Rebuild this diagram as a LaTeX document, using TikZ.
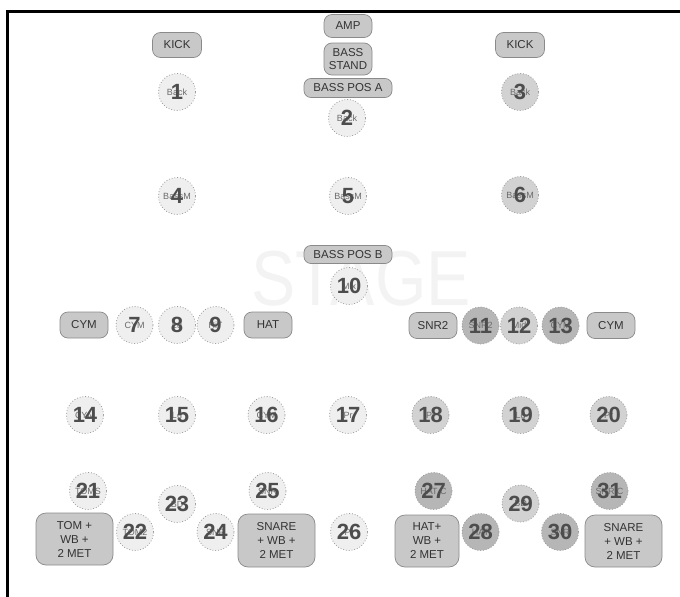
\documentclass[tikz,border=0pt]{standalone}
\usepackage{fontspec}
\setmainfont{Liberation Sans}
\definecolor{pillfill}{HTML}{C8C8C8}
\definecolor{pillborder}{HTML}{8A8A8A}
\definecolor{dotgray}{HTML}{9A9A9A}
\definecolor{lightc}{HTML}{EFEFEF}
\definecolor{medc}{HTML}{D2D2D2}
\definecolor{darkc}{HTML}{B6B6B6}
\definecolor{numc}{HTML}{4D4D4D}
\definecolor{labc}{HTML}{6A6A6A}
\definecolor{textc}{HTML}{333333}
\definecolor{stagec}{HTML}{F3F3F3}
\tikzset{
  pill/.style={draw=pillborder, fill=pillfill, line width=0.7pt, inner sep=0pt,
    text=textc, font=\fontsize{11.5}{12.5}\selectfont, align=center},
  mic/.style={circle, draw=dotgray, dotted, line width=0.8pt, minimum size=37pt, inner sep=0pt},
  miclab/.style={inner sep=0pt, text=labc, font=\fontsize{9}{9}\selectfont},
  micnum/.style={inner sep=0pt, text=numc, font=\fontsize{22}{22}\selectfont\bfseries},
}
\newcommand\mymic[6]{%
  \node[mic, fill=#4] (#1) at (#2,#3) {};
  \node[miclab] (#1l) at (#1) {#5};
  \node[micnum] (#1n) at (#1) {#6};
}
\begin{document}
\begin{tikzpicture}[x=1pt,y=-1pt]
\useasboundingbox (0,0) rectangle (680,597);
% frame
\draw[line width=2.5pt] (7.5,597) -- (7.5,11.5) -- (680,11.5);
% watermark
\node[text=stagec, font=\fontsize{78}{78}\selectfont, xscale=0.85, inner sep=0pt] (stage) at (361,279) {STAGE};
% pills
\node[pill, rounded corners=8pt, minimum width=48pt, minimum height=23pt] (amp) at (348,26) {AMP};
\node[pill, rounded corners=8pt, minimum width=48pt, minimum height=32pt] (bstand) at (348,59) {BASS\\STAND};
\node[pill, rounded corners=7pt, minimum width=88pt, minimum height=19pt] (bposa) at (348,88) {BASS POS A};
\node[pill, rounded corners=7pt, minimum width=88pt, minimum height=18pt] (bposb) at (348,254.5) {BASS POS B};
\node[pill, rounded corners=8pt, minimum width=49pt, minimum height=25pt] (kickl) at (177,45) {KICK};
\node[pill, rounded corners=8pt, minimum width=49pt, minimum height=25pt] (kickr) at (520,45) {KICK};
\node[pill, rounded corners=8pt, minimum width=48pt, minimum height=26pt] (cyml) at (84,325) {CYM};
\node[pill, rounded corners=8pt, minimum width=48pt, minimum height=26pt] (hat) at (268,325) {HAT};
\node[pill, rounded corners=8pt, minimum width=48pt, minimum height=26pt] (snr2) at (433,325.5) {SNR2};
\node[pill, rounded corners=8pt, minimum width=48pt, minimum height=26pt] (cymr) at (611,325.5) {CYM};
\node[pill, rounded corners=10pt, minimum width=77pt, minimum height=52pt, font=\fontsize{11.5}{14}\selectfont] (boxa) at (74.5,539) {TOM +\\WB +\\2 MET};
\node[pill, rounded corners=10pt, minimum width=77pt, minimum height=53pt, font=\fontsize{11.5}{14}\selectfont] (boxb) at (276.5,540.5) {SNARE\\+ WB +\\2 MET};
\node[pill, rounded corners=10pt, minimum width=64pt, minimum height=52pt, font=\fontsize{11.5}{14}\selectfont] (boxc) at (427,541) {HAT+\\WB +\\2 MET};
\node[pill, rounded corners=10pt, minimum width=77pt, minimum height=52pt, font=\fontsize{11.5}{14}\selectfont] (boxd) at (623.5,541) {SNARE\\+ WB +\\2 MET};
% mics
\mymic{m1}{177}{92}{lightc}{Back}{1}
\mymic{m2}{347}{118}{lightc}{Back}{2}
\mymic{m3}{520}{92}{medc}{Back}{3}
\mymic{m4}{177}{196}{lightc}{BassM}{4}
\mymic{m5}{348}{196}{lightc}{BassM}{5}
\mymic{m6}{520}{195}{medc}{BassM}{6}
\mymic{m7}{134.5}{325}{lightc}{CYM}{7}
\mymic{m8}{177}{325}{lightc}{Ld}{8}
\mymic{m9}{215.5}{325}{lightc}{HiT}{9}
\mymic{m10}{349}{286}{lightc}{Mix}{10}
\mymic{m11}{480.5}{325.5}{darkc}{SNR2}{11}
\mymic{m12}{519}{325.5}{medc}{Mid}{12}
\mymic{m13}{560.5}{325.5}{darkc}{CYM}{13}
\mymic{m14}{85}{415}{lightc}{CYM}{14}
\mymic{m15}{177}{415}{lightc}{Ld}{15}
\mymic{m16}{266.5}{415}{lightc}{CYM}{16}
\mymic{m17}{348}{415}{lightc}{Pr}{17}
\mymic{m18}{430.5}{415}{medc}{Pr}{18}
\mymic{m19}{520.5}{415}{medc}{Ld}{19}
\mymic{m20}{608.5}{415}{medc}{Pr}{20}
\mymic{m21}{88}{491}{lightc}{TOMS}{21}
\mymic{m22}{135}{532}{lightc}{TOM2}{22}
\mymic{m23}{177}{504}{lightc}{BD}{23}
\mymic{m24}{215.5}{532}{lightc}{SNR}{24}
\mymic{m25}{267.5}{491}{lightc}{SNR}{25}
\mymic{m26}{349}{532}{lightc}{Pr}{26}
\mymic{m27}{433.5}{491}{darkc}{HAT C}{27}
\mymic{m28}{480.5}{532}{darkc}{HAT}{28}
\mymic{m29}{520.5}{503.5}{medc}{BD}{29}
\mymic{m30}{560}{532}{darkc}{SNR}{30}
\mymic{m31}{609.5}{491}{darkc}{SNR C}{31}
\end{tikzpicture}
\end{document}
